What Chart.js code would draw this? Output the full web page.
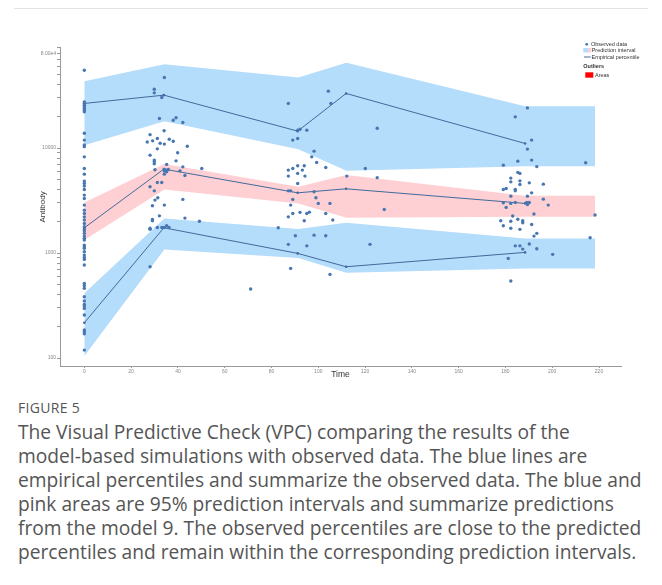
<!DOCTYPE html>
<html>
<head>
<meta charset="utf-8">
<script src="https://cdn.jsdelivr.net/npm/chart.js@4.4.1/dist/chart.umd.min.js"></script>
<style>
  html, body { margin: 0; padding: 0; background: #fff; }
  body { width: 662px; height: 585px; position: relative; overflow: hidden; font-family: "Open Sans", "Noto Sans", sans-serif; }
  #rule { position: absolute; left: 14px; top: 8px; width: 634px; height: 1px; background: #e2e2e2; }
  #vpc { position: absolute; left: 0; top: 0; }
  #fig { position: absolute; left: 18px; top: 398px; font-size: 14px; line-height: 20px; color: #555; letter-spacing: 0.3px; }
  #txt { position: absolute; left: 18px; top: 420px; margin: 0; font-size: 19.2px; line-height: 24px; color: #555; white-space: nowrap; }
</style>
</head>
<body>
<div id="rule"></div>
<canvas id="vpc" width="662" height="385"></canvas>
<div id="fig">FIGURE 5</div>
<p id="txt">The Visual Predictive Check (VPC) comparing the results of the<br>model-based simulations with observed data. The blue lines are<br>empirical percentiles and summarize the observed data. The blue and<br>pink areas are 95% prediction intervals and summarize predictions<br>from the model 9. The observed percentiles are close to the predicted<br>percentiles and remain within the corresponding prediction intervals.</p>
<script>
// prediction interval bands
var bandTime = [0, 34.2, 91.5, 112, 188.4, 218.3];
var upperHi = [43300, 62800, 46960, 64700, 25040, 25040];
var upperLo = [10650, 18030, 9757, 6065, 6700, 6700];
var midHi = [3034, 7024, 4272, 5520, 3506, 3506];
var midLo = [1328, 4034, 2968, 2165, 2213, 2213];
var lowHi = [413, 2136, 1690, 1940, 1378, 1378];
var lowLo = [104.5, 1083, 895, 648, 714, 714];

// empirical percentiles
var pctTime = [0, 34, 91.2, 111.9, 188.4];
var pctHigh = [26570, 31870, 14480, 33070, 11050];
var pctMid = [1739, 6295, 3744, 4088, 2968];
var pctLow = [216.8, 1739, 992, 740, 1014];

// observed data, [time, antibody]
var visit0 = [55100, 27500, 26600, 25600, 24700, 23800, 22900, 22100, 13800, 11900, 10700, 10300, 8240,
  6390, 5640, 4840, 4600, 4340, 4030, 3560, 3310, 2860, 2560, 2380, 2210, 2060, 1910, 1780, 1690, 1630,
  1540, 1450, 1380, 1330, 1190, 1150, 1110, 1030, 956, 909, 870, 768, 514, 488, 461, 383, 349, 324, 313,
  297, 257, 185, 178, 170, 119];
var visit1 = [[34.2,47000],[29.9,36300],[29.9,33500],[33.1,30300],[32.1,19100],[38.0,18400],[39.2,19400],
  [42.1,17500],[34.1,14600],[28.1,13400],[31.2,12300],[36.3,12100],[29.2,11700],[38.0,11600],[26.9,11400],
  [32.4,11100],[34.2,10900],[44.0,10400],[31.2,9820],[28.1,8550],[39.9,9000],[29.9,7670],[29.9,7390],
  [29.9,7070],[39.2,7550],[42.1,6620],[50.2,6390],[30.2,6200],[34.2,6250],[35.2,6160],[35.9,6250],
  [34.2,5640],[40.9,6060],[43.0,5480],[35.2,6980],[34.2,6030],[35.2,5930],[28.1,4270],[31.2,4700],
  [33.1,4700],[29.9,3910],[31.4,3360],[30.2,3190],[29.1,2820],[34.2,2860],[42.1,3240],[32.1,2260],
  [29.1,2090],[29.1,2030],[43.0,2150],[49.2,2010],[28.1,1720],[28.1,1680],[31.2,1750],[33.1,1750],
  [34.2,1750],[35.2,1820],[36.2,1750],[28.1,740]];
var visit2 = [[87.2,26600],[91.2,14800],[92.2,15100],[95.1,14800],[89.1,11900],[91.2,12300],[98.2,9340],
  [97.2,8240],[99.3,7290],[103.2,6530],[87.2,6160],[89.1,6390],[91.2,6770],[94.0,6770],[87.2,5400],
  [91.2,5730],[93.2,6160],[94.3,5400],[104.3,34800],[105.4,26600],[91.2,4600],[87.2,3910],[88.2,3910],
  [98.2,3830],[89.1,3240],[99.0,3360],[100.0,2970],[105.0,2970],[88.2,2860],[89.1,2380],[92.2,2440],
  [95.1,2380],[96.2,2450],[87.2,2210],[103.2,2380],[94.0,2030],[106.2,2060],[82.9,1740],[90.2,1460],
  [98.2,1480],[103.2,1460],[87.2,1210],[95.1,1170],[88.2,714],[105.0,626],[71.1,454]];
var visit3 = [[120.1,6390],[125.2,15400],[112.2,5400],[125.2,5220],[128.2,2600],[122.1,1210]];
var visit4 = [[189.4,24100],[184.2,19800],[191.2,11900],[189.4,9760],[185.3,7500],[191.2,7670],[179.1,6870],
  [193.4,6650],[214.3,7230],[185.3,5860],[186.2,5730],[182.3,5170],[182.3,4760],[186.2,4870],[186.2,4500],
  [190.2,4660],[196.2,4530],[179.1,4030],[180.3,4120],[184.2,4030],[184.2,3910],[191.2,3740],[182.3,3480],
  [189.4,3480],[196.2,3260],[179.1,3010],[182.3,2970],[184.2,3030],[189.1,3030],[190.2,3030],[180.3,2720],
  [189.4,2900],[198.3,2860],[192.2,2350],[218.3,2300],[183.1,2250],[185.3,2100],[187.4,2030],[187.4,1940],
  [178.0,2030],[182.3,2010],[179.1,1820],[191.2,1870],[182.3,1720],[186.2,1680],[193.4,1540],[192.2,1450],
  [216.2,1400],[184.2,1170],[186.2,1170],[190.2,1220],[187.4,1090],[193.4,1100],[181.2,889],[200.2,971],
  [182.3,541]];

var xTicks = [0, 20, 40, 60, 80, 100, 120, 140, 160, 180, 200, 220];
var yTicks = [100, 200, 300, 400, 500, 600, 700, 800, 900, 1000, 2000, 3000, 4000, 5000, 6000, 7000, 8000,
  9000, 10000, 20000, 30000, 40000, 50000, 60000, 70000, 80000, 90000];
var yLabels = {100: '100', 1000: '1000', 10000: '10000', 80000: '8.00e4'};

var BLUE_AREA = 'rgb(180,220,251)';
var PINK_AREA = 'rgb(254,208,212)';
var DOT = 'rgb(72,118,176)';
var LINE = 'rgb(66,106,156)';

function pts(xs, ys) {
  return xs.map(function(x, i) { return {x: x, y: ys[i]}; });
}

function band(hi, lo, color) {
  return [
    {type: 'line', data: pts(bandTime, lo), borderWidth: 0, pointRadius: 0, fill: false, order: 3},
    {type: 'line', data: pts(bandTime, hi), borderWidth: 0, pointRadius: 0, fill: '-1', backgroundColor: color, order: 3}
  ];
}

function pctLine(ys) {
  return {type: 'line', data: pts(pctTime, ys), borderColor: LINE, borderWidth: 1, pointRadius: 1.3,
    pointBackgroundColor: LINE, pointBorderWidth: 0, fill: false, tension: 0, order: 2};
}

var observed = visit0.map(function(v) { return {x: 0, y: v}; });
[visit1, visit2, visit3, visit4].forEach(function(list) {
  list.forEach(function(p) { observed.push({x: p[0], y: p[1]}); });
});

var legendPlugin = {
  id: 'vpcLegend',
  afterDraw: function(chart) {
    var ctx = chart.ctx;
    ctx.save();
    ctx.textBaseline = 'middle';
    ctx.font = '5.5px "Liberation Sans", Arial, sans-serif';
    ctx.fillStyle = '#333';
    ctx.beginPath();
    ctx.arc(586.7, 44.3, 1.4, 0, Math.PI * 2);
    ctx.fillStyle = DOT;
    ctx.fill();
    ctx.fillStyle = '#333';
    ctx.fillText('Observed data', 591, 44.5);
    ctx.fillStyle = BLUE_AREA;
    ctx.fillRect(583.3, 48, 4.7, 4.5);
    ctx.fillStyle = PINK_AREA;
    ctx.fillRect(588, 48, 3.3, 4.5);
    ctx.fillStyle = '#333';
    ctx.fillText('Prediction interval', 591.7, 50.3);
    ctx.strokeStyle = LINE;
    ctx.lineWidth = 1;
    ctx.beginPath();
    ctx.moveTo(584, 57);
    ctx.lineTo(590.7, 57);
    ctx.stroke();
    ctx.fillText('Empirical percentile', 591.5, 57);
    ctx.font = 'bold 5.5px "Liberation Sans", Arial, sans-serif';
    ctx.fillText('Outliers', 583.3, 66.3);
    ctx.fillStyle = '#f00';
    ctx.fillRect(585.3, 72.3, 8, 5.4);
    ctx.fillStyle = '#333';
    ctx.font = '5.5px "Liberation Sans", Arial, sans-serif';
    ctx.fillText('Areas', 595, 75.2);
    ctx.restore();
  }
};

var datasets = []
  .concat(band(upperHi, upperLo, BLUE_AREA))
  .concat(band(midHi, midLo, PINK_AREA))
  .concat(band(lowHi, lowLo, BLUE_AREA))
  .concat([pctLine(pctHigh), pctLine(pctMid), pctLine(pctLow)])
  .concat([{type: 'scatter', data: observed, pointRadius: 1.7, pointBackgroundColor: DOT,
    pointBorderWidth: 0, order: 0}]);

var grafico = new Chart(document.getElementById('vpc').getContext('2d'), {
  type: 'scatter',
  data: {datasets: datasets},
  options: {
    responsive: false,
    animation: false,
    devicePixelRatio: 1,
    layout: {padding: {left: 0, top: 47.8, right: 41, bottom: 5}},
    plugins: {legend: {display: false}, tooltip: {enabled: false}},
    scales: {
      x: {
        type: 'linear',
        min: -10.4,
        max: 229.4,
        afterBuildTicks: function(scale) { scale.ticks = xTicks.map(function(v) { return {value: v}; }); },
        afterFit: function(scale) { scale.height = 14; },
        grid: {drawOnChartArea: false, tickLength: 2, color: '#999'},
        border: {color: '#999'},
        ticks: {font: {size: 5, family: 'Liberation Sans'}, color: '#888', padding: 1, maxRotation: 0, autoSkip: false},
        title: {display: true, text: 'Time', color: '#333', font: {size: 8.5, family: 'Liberation Sans'}, padding: {top: 0, bottom: 0}}
      },
      y: {
        type: 'logarithmic',
        min: 84,
        max: 90000,
        afterBuildTicks: function(scale) { scale.ticks = yTicks.map(function(v) { return {value: v}; }); },
        afterFit: function(scale) { scale.width = 60; },
        grid: {drawOnChartArea: false, tickLength: 3, color: '#999'},
        border: {color: '#999'},
        ticks: {
          font: {size: 5, family: 'Liberation Sans'}, color: '#888', padding: 1, autoSkip: false,
          callback: function(v) { return yLabels[v] || ''; }
        },
        title: {display: true, text: 'Antibody', color: '#333', font: {size: 8, family: 'Liberation Sans'}, padding: {top: 38, bottom: 0}}
      }
    }
  },
  plugins: [legendPlugin]
});
</script>
</body>
</html>
